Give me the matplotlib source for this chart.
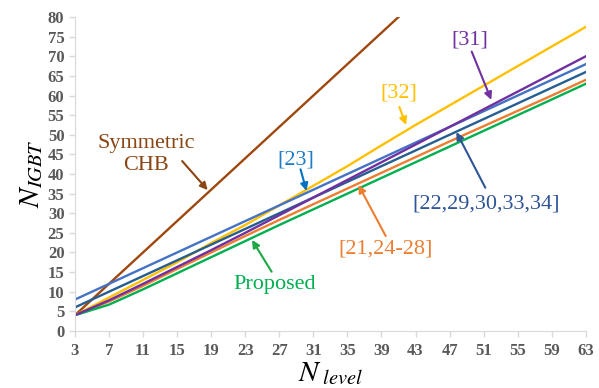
import matplotlib.pyplot as plt

plt.rcParams['font.family'] = ['Liberation Serif', 'DejaVu Serif']
plt.rcParams['mathtext.fontset'] = 'stix'

levels = [3, 7, 11, 15, 19, 23, 27, 31, 35, 39, 43, 47, 51, 55, 59, 63]

sym_chb = [4, 12, 20, 28, 36, 44, 52, 60, 68, 76, 84, 92, 100, 108, 116, 124]
ref32 = [4, 8.5, 13, 17.5, 22.4, 27, 32, 37, 42, 47.3, 52.5, 57.5, 62.5, 67.5, 72.5, 77.5]
ref23 = [8, 12, 16, 20, 24, 28, 32, 36, 40, 44, 48, 52, 56, 60, 64, 68]
ref22 = [6, 10, 14, 18, 22, 26, 30, 34, 38, 42, 46, 50, 54, 58, 62, 66]
ref31 = [4, 7.8, 12, 16.3, 20.6, 25, 29.5, 34, 38.5, 43, 47.5, 52, 56.5, 61, 65.5, 70]
ref21 = [4, 7.5, 11.5, 15.8, 20, 24.2, 28.3, 32.3, 36.3, 40.3, 44.3, 48.3, 52.2, 56.1, 60, 64]
proposed = [4, 6.7, 10.6, 14.7, 18.8, 22.9, 27, 31, 35, 39, 43, 47, 51, 55, 59, 63]

fig = plt.figure(figsize=(5.99, 3.88), dpi=100)
ax = fig.add_axes([0.125, 0.147, 0.853, 0.809])

series = [
    (sym_chb, '#9E480E'),
    (ref32, '#FFC000'),
    (ref22, '#255E91'),
    (ref23, '#4472C4'),
    (ref21, '#ED7D31'),
    (proposed, '#00B050'),
    (ref31, '#7030A0'),
]
for vals, col in series:
    ax.plot(levels, vals, color=col, lw=1.7)

ax.set_xlim(3, 63)
ax.set_ylim(0, 80)
ax.set_xticks(levels)
ax.set_yticks(range(0, 81, 5))
for s in ['top', 'right']:
    ax.spines[s].set_visible(False)
for s in ['left', 'bottom']:
    ax.spines[s].set_color('#D9D9D9')
ax.tick_params(colors='#D9D9D9', labelcolor='#595959', length=4, width=1)
ax.tick_params(axis='x', pad=5)
for lab in ax.get_xticklabels() + ax.get_yticklabels():
    lab.set_fontweight('bold')
    lab.set_fontsize(12)

ax.set_xlabel(r'$N_{\ level}$', fontsize=21, labelpad=1)
ax.set_ylabel(r'$N_{IGBT}$', fontsize=21, labelpad=2)

# label text: (text, centre, colour)
labels = [
    ('Symmetric\nCHB', (11.4, 44.9), '#8B4513'),
    ('[23]', (28.9, 43.7), '#1F7DC8'),
    ('[32]', (41.0, 60.6), '#FFC000'),
    ('[31]', (49.4, 74.1), '#7030A0'),
    ('[22,29,30,33,34]', (51.3, 32.3), '#2F5597'),
    ('[21,24-28]', (39.5, 20.8), '#ED7D31'),
    ('Proposed', (26.5, 11.9), '#00B050'),
]
for txt, pos, col in labels:
    ax.text(pos[0], pos[1], txt, color=col, fontsize=16, ha='center',
            va='center', linespacing=1.2)

# arrows: (tail, tip, colour)
arrows = [
    ((15.6, 43.3), (18.6, 35.9), '#8B4513'),
    ((29.5, 41.2), (30.2, 35.7), '#0070C0'),
    ((41.1, 57.1), (41.9, 52.5), '#FFC000'),
    ((49.6, 71.2), (51.9, 58.9), '#7030A0'),
    ((51.2, 36.5), (47.8, 50.7), '#2F5597'),
    ((39.5, 24.2), (36.3, 37.2), '#ED7D31'),
    ((26.1, 15.1), (23.8, 23.2), '#1DA843'),
]
for tail, tip, col in arrows:
    ax.annotate('', xy=tip, xytext=tail,
                arrowprops=dict(arrowstyle='-|>', color=col, lw=1.5,
                                shrinkA=0, shrinkB=0, mutation_scale=11))

fig.savefig('out.png', dpi=100)
